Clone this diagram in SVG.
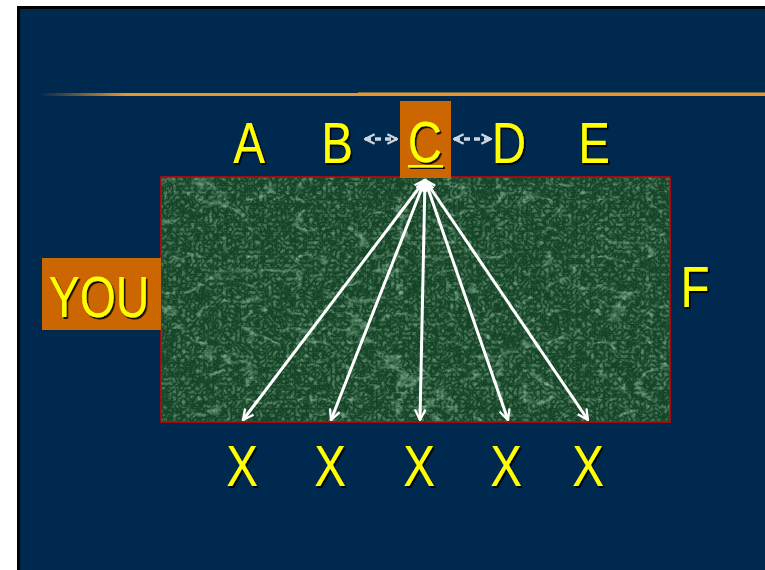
<svg xmlns="http://www.w3.org/2000/svg" width="765" height="570" viewBox="0 0 765 570">
<style>
.lbl{font-family:"Liberation Sans",Arial,sans-serif;font-size:58px;fill:#FFFF00;text-anchor:middle;filter:url(#shadow)}
.arr{stroke:#FFFFFF;stroke-width:3;fill:none;marker-start:url(#head);marker-end:url(#head)}
.dash{stroke:#CDD5DF;stroke-width:3.5;stroke-dasharray:6 4;fill:none;marker-start:url(#dhead);marker-end:url(#dhead)}
.box{fill:#CC6600}
</style>
<defs>
<linearGradient id="rule" x1="0" y1="0" x2="1" y2="0">
<stop offset="0" stop-color="#E8982A" stop-opacity="0"/>
<stop offset="0.12" stop-color="#E8982A" stop-opacity="1"/>
<stop offset="1" stop-color="#E8982A"/>
</linearGradient>
<filter id="shadow" x="-20%" y="-20%" width="150%" height="150%">
<feDropShadow dx="2" dy="2" stdDeviation="0.6" flood-color="#000000" flood-opacity="0.9"/>
</filter>
<filter id="marble" x="0" y="0" width="100%" height="100%">
<feTurbulence type="turbulence" baseFrequency="0.02 0.035" numOctaves="5" seed="7" result="n"/>
<feColorMatrix in="n" type="matrix" values="0 0 0 0 0.5  0 0 0 0 0.78  0 0 0 0 0.6  -3.2 0 0 0 0.55" result="veins"/>
<feTurbulence type="turbulence" baseFrequency="0.22" numOctaves="2" seed="2" result="g"/>
<feColorMatrix in="g" type="matrix" values="0 0 0 0 0.3  0 0 0 0 0.55  0 0 0 0 0.38  1.0 0 0 0 -0.15" result="grain"/>
<feMerge><feMergeNode in="grain"/><feMergeNode in="veins"/></feMerge>
<feComposite in2="SourceGraphic" operator="in"/>
</filter>
<marker id="head" viewBox="0 0 12 12" refX="11" refY="6" markerWidth="4.2" markerHeight="4.2" orient="auto-start-reverse" markerUnits="strokeWidth">
<path d="M1,1 L11,6 L1,11" fill="none" stroke="#FFFFFF" stroke-width="2.2"/>
</marker>
<marker id="dhead" viewBox="0 0 12 12" refX="11" refY="6" markerWidth="3.3" markerHeight="3.3" orient="auto-start-reverse" markerUnits="strokeWidth">
<path d="M1,1 L11,6 L1,11" fill="none" stroke="#CDD5DF" stroke-width="2.4"/>
</marker>
</defs>
<rect x="0" y="0" width="765" height="570" fill="#FFFFFF"/>
<rect x="17" y="6" width="748" height="564" fill="#000000"/>
<rect x="20" y="9" width="745" height="561" fill="#00294F"/>
<rect x="40" y="93" width="725" height="3" fill="url(#rule)"/>
<rect x="358" y="92" width="407" height="1" fill="#7A6A48"/>

<g id="table">
<rect x="161" y="177" width="509" height="245" fill="#154526"/>
<rect x="161" y="177" width="509" height="245" fill="#154526" filter="url(#marble)"/>
<rect x="161" y="177" width="509" height="245" fill="none" stroke="#D40000" stroke-width="1.5"/>
</g>

<g id="connectors">
<line class="dash" x1="365" y1="139" x2="397" y2="139"/>
<line class="dash" x1="454" y1="139" x2="491" y2="139"/>
<line class="arr" x1="425" y1="180" x2="243" y2="420"/>
<line class="arr" x1="425" y1="180" x2="331" y2="420"/>
<line class="arr" x1="425" y1="180" x2="420" y2="420"/>
<line class="arr" x1="425" y1="180" x2="508" y2="420"/>
<line class="arr" x1="425" y1="180" x2="588" y2="420"/>
</g>

<g id="nodeA"><text class="lbl" transform="translate(249,163) scale(0.82,1)">A</text></g>
<g id="nodeB"><text class="lbl" transform="translate(337,163) scale(0.82,1)">B</text></g>
<g id="nodeC">
<rect class="box" x="400" y="101" width="51" height="77"/>
<text class="lbl" transform="translate(425,162) scale(0.82,1)">C</text>
<rect x="408" y="165" width="35" height="2.5" fill="#FFFF00" filter="url(#shadow)"/>
</g>
<g id="nodeD"><text class="lbl" transform="translate(509,163) scale(0.82,1)">D</text></g>
<g id="nodeE"><text class="lbl" transform="translate(594,163) scale(0.82,1)">E</text></g>
<g id="nodeF"><text class="lbl" transform="translate(695,307) scale(0.82,1)">F</text></g>
<g id="nodeYOU">
<rect class="box" x="42" y="258" width="119" height="72"/>
<text class="lbl" transform="translate(99,317) scale(0.8,1)">YOU</text>
</g>
<g id="nodeX1"><text class="lbl" transform="translate(242,486) scale(0.82,1)">X</text></g>
<g id="nodeX2"><text class="lbl" transform="translate(330,486) scale(0.82,1)">X</text></g>
<g id="nodeX3"><text class="lbl" transform="translate(419,486) scale(0.82,1)">X</text></g>
<g id="nodeX4"><text class="lbl" transform="translate(506,486) scale(0.82,1)">X</text></g>
<g id="nodeX5"><text class="lbl" transform="translate(588,486) scale(0.82,1)">X</text></g>
</svg>
